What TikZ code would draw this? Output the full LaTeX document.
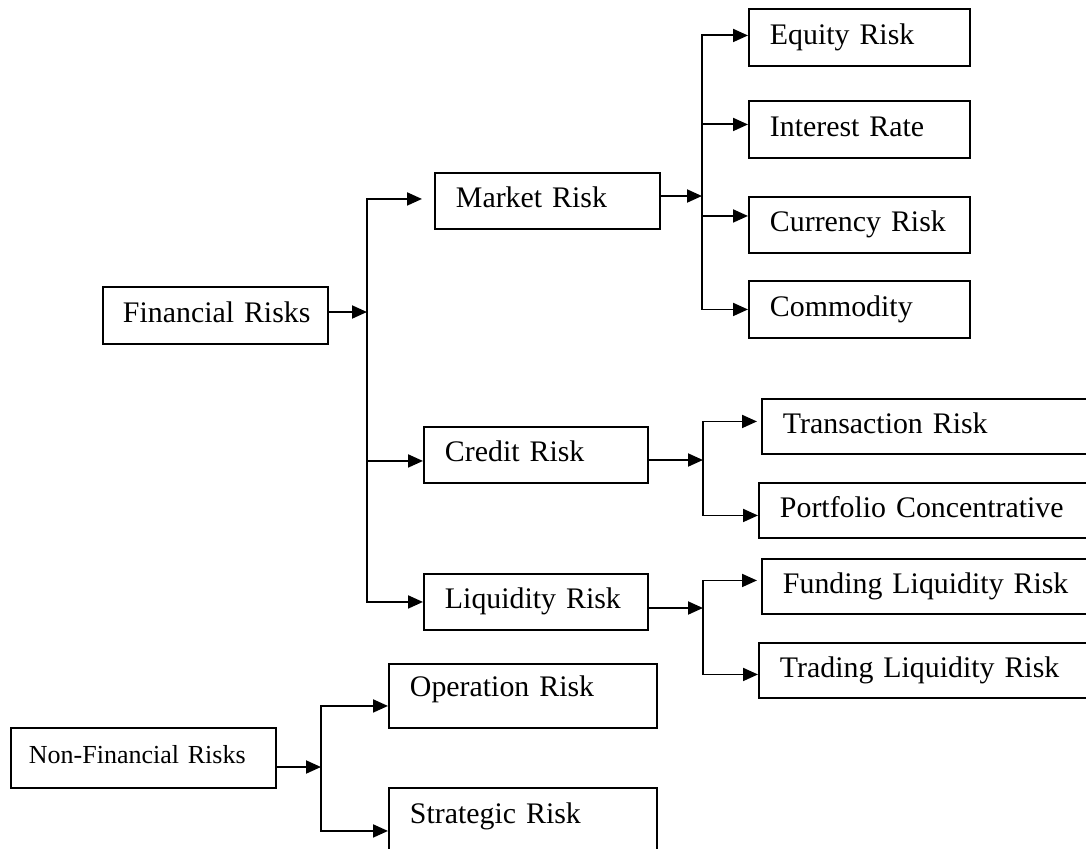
\documentclass[tikz,border=0pt]{standalone}
\usepackage{fontspec}
\setmainfont{Liberation Serif}
\usepackage{tikz}
\usetikzlibrary{arrows.meta}
\usetikzlibrary{calc}

\begin{document}
\begin{tikzpicture}[x=0.02cm, y=-0.02cm, line width=1.1pt,
    >={Triangle[length=0.3cm, width=0.26cm]},
    riskbox/.style={draw, anchor=north west, align=left,
      inner xsep=0.42cm, inner ysep=0pt,
      text height=12pt, text depth=4.3pt,
      font=\fontsize{17pt}{20pt}\selectfont},
    tallbox/.style={riskbox, text depth=11pt}]

  \useasboundingbox (0,0) rectangle (1086,849);
  % \draw[help lines] (0,0) rectangle (1086,849);

  % Top level
  \node[riskbox, inner xsep=0.4cm, text width=3.7cm, minimum height=1.14cm] (fin) at (102,286) {Financial~Risks};
  \node[riskbox, inner xsep=0.36cm, text width=4.58cm, minimum height=1.2cm,
        font=\fontsize{14.8pt}{18pt}\selectfont, text height=10.4pt, text depth=3.7pt] (nonfin) at (10,727) {Non-Financial Risks};

  % Financial risks
  \node[riskbox, text width=3.66cm, minimum height=1.12cm] (market) at (434,172) {Market Risk};
  \node[riskbox, text width=3.64cm, minimum height=1.12cm] (credit) at (423,426) {Credit Risk};
  \node[riskbox, text width=3.64cm, minimum height=1.12cm] (liquidity) at (423,573) {Liquidity Risk};

  % Market risk
  \node[riskbox, text width=3.58cm, minimum height=1.14cm] (equity) at (748,8) {Equity Risk};
  \node[riskbox, text width=3.58cm, minimum height=1.14cm] (interest) at (748,100) {Interest Rate};
  \node[riskbox, text width=3.58cm, minimum height=1.12cm] (currency) at (748,196) {Currency Risk};
  \node[riskbox, text width=3.58cm, minimum height=1.14cm] (commodity) at (748,280) {Commodity};

  % Credit and liquidity risk
  \node[riskbox, text width=5.94cm, minimum height=1.1cm] (transaction) at (761,398) {Transaction Risk};
  \node[riskbox, text width=6.0cm, minimum height=1.1cm] (portfolio) at (758,482) {Portfolio Concentrative};
  \node[riskbox, text width=5.94cm, minimum height=1.1cm] (funding) at (761,558) {Funding Liquidity Risk};
  \node[riskbox, text width=6.0cm, minimum height=1.1cm] (trading) at (758,642) {Trading Liquidity Risk};

  % Non-financial risks
  \node[tallbox, text width=4.52cm, minimum height=1.28cm] (operation) at (388,663) {Operation Risk};
  \node[tallbox, text width=4.52cm, minimum height=1.4cm] (strategic) at (388,787) {Strategic Risk};

  % Connectors
  \coordinate (fj) at (367,312);
  \draw[->] (fin.east |- fj) -- (fj);
  \draw[->] (fj) |- ($(market.west) + (-12,-2)$);
  \draw[->] (fj) |- ($(credit.west) + (0,6)$);
  \draw[->] (fj) |- (liquidity.west);

  \coordinate (mj) at (702,196);
  \draw[->] (market.east |- mj) -- (mj);
  \draw[->] (mj) |- ($(equity.west) + (0,-2)$);
  \draw[->] (mj) |- ($(interest.west) + (0,-5)$);
  \draw[->] (mj) |- ($(currency.west) + (0,-9)$);
  \draw[->] (mj) |- (commodity.west);

  \coordinate (cj) at (703,460);
  \draw[->] (credit.east |- cj) -- (cj);
  \draw[->] (cj) |- ($(transaction.west) + (-4,-5)$);
  \draw[->] (cj) |- ($(portfolio.west) + (0,5)$);

  \coordinate (lj) at (703,608);
  \draw[->] (liquidity.east |- lj) -- (lj);
  \draw[->] (lj) |- ($(funding.west) + (-4,-6)$);
  \draw[->] (lj) |- ($(trading.west) + (0,4)$);

  \coordinate (nj) at (321,767);
  \draw[->] (nonfin.east |- nj) -- (nj);
  \draw[->] (nj) |- ($(operation.west) + (0,10)$);
  \draw[->] (nj) |- ($(strategic.west) + (0,8)$);

\end{tikzpicture}
\end{document}
